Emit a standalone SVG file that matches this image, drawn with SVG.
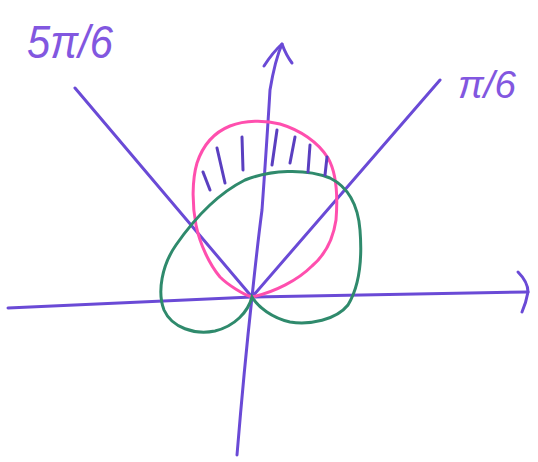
<svg xmlns="http://www.w3.org/2000/svg" width="538" height="462" viewBox="0 0 538 462">
<style>
.ax{fill:none;stroke:#6a4ad6;stroke-width:3;stroke-linecap:round;stroke-linejoin:round}
.hatch{fill:none;stroke:#5a3fc0;stroke-width:3;stroke-linecap:round}
.lbl{font-family:"Liberation Sans",sans-serif;fill:#8257e0;font-style:italic}
</style>
<rect width="538" height="462" fill="#ffffff"/>
<g id="connectors">
<path class="ax" d="M8,308 L252,297 L528,292"/>
<path class="ax" d="M518,272 Q528,282 528,292 Q526,303 522,312"/>
<path class="ax" d="M237,455 Q244,370 252,297 Q258,240 262,210 Q267,140 270,90 Q275,60 282,44"/>
<path class="ax" d="M264,66 Q273,52 282,44 Q286,55 292,63"/>
<path class="ax" d="M75,88 L252,297"/>
<path class="ax" d="M440,80 L252,297"/>
</g>
<g id="pink-curve">
<path fill="none" stroke="#ff4fae" stroke-width="3" d="M252,297 C244,295 228,285 220,277 C210,265 200,245 196,225 C192,205 192,180 197,163 C203,145 215,132 230,126 C245,120 265,120 280,124 C300,130 318,142 328,158 C336,172 338,195 336,220 C333,240 325,255 312,266 C298,280 275,292 252,297 Z"/>
</g>
<g id="green-curve">
<path fill="none" stroke="#2f8a6c" stroke-width="3" d="M252,297 C248,312 235,326 215,331 C195,335 172,328 164,310 C157,292 162,265 176,245 C192,222 215,195 245,180 C270,170 305,168 330,178 C348,187 358,205 360,230 C362,255 360,285 348,305 C336,320 310,325 290,322 C272,318 258,307 252,297 Z"/>
</g>
<g id="hatching">
<path class="hatch" d="M203,172 L210,190"/>
<path class="hatch" d="M217,148 L225,183"/>
<path class="hatch" d="M242,137 L243,170"/>
<path class="hatch" d="M277,130 L272,165"/>
<path class="hatch" d="M295,137 L290,163"/>
<path class="hatch" d="M310,145 L308,172"/>
<path class="hatch" d="M327,157 L325,175"/>
</g>
<g id="label-5pi6">
<text class="lbl" x="27" y="58" font-size="46" textLength="86" lengthAdjust="spacingAndGlyphs">5π/6</text>
</g>
<g id="label-pi6">
<text class="lbl" x="458" y="98" font-size="38" textLength="58" lengthAdjust="spacingAndGlyphs">π/6</text>
</g>
</svg>
